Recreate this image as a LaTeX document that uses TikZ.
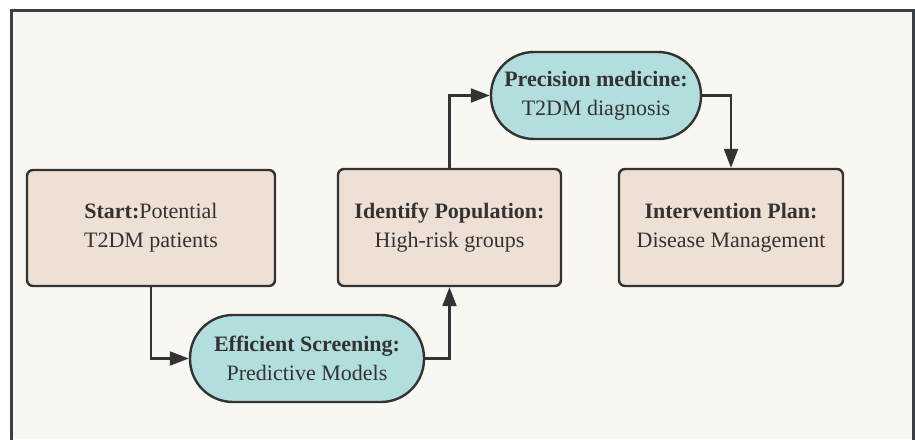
\documentclass[tikz,border=0pt]{standalone}
\usepackage{fontspec}
\setmainfont{Liberation Serif}
\usetikzlibrary{arrows.meta}
\definecolor{pagebg}{HTML}{F8F7F2}
\definecolor{framec}{HTML}{3B4046}
\definecolor{tanbox}{HTML}{EEE0D5}
\definecolor{tealbox}{HTML}{B3DEDE}
\definecolor{inkc}{HTML}{333333}
\begin{document}
\begin{tikzpicture}[x=1pt,y=-1pt,font=\fontsize{22}{29}\selectfont,
 stepbox/.style={draw=inkc,line width=2.4pt,rounded corners=6pt,fill=tanbox,align=center,text=inkc,inner sep=0pt},
 pillbox/.style={draw=inkc,line width=2.4pt,rounded corners=43pt,fill=tealbox,align=center,text=inkc,inner sep=0pt},
 flow/.style={draw=inkc,line width=2.2pt,-{Triangle[length=19pt,width=14pt]}}]
\useasboundingbox (0,0) rectangle (915,439);
\fill[pagebg] (11,10) rectangle (913,439);
\draw[framec,line width=3pt] (11,445)--(11,10)--(913,10)--(913,445);
\node[stepbox,minimum width=248,minimum height=116] (start) at (151,228) {\textbf{Start:}Potential\\T2DM patients};
\node[pillbox,minimum width=234,minimum height=87] (screen) at (307,358.5) {\textbf{Efficient Screening:}\\Predictive Models};
\node[stepbox,minimum width=223,minimum height=117] (identify) at (449.5,227.5) {\textbf{Identify Population:}\\High-risk groups};
\node[pillbox,minimum width=210,minimum height=87] (precision) at (596,95.5) {\textbf{Precision medicine:}\\T2DM diagnosis};
\node[stepbox,minimum width=224,minimum height=117] (plan) at (731,227.5) {\textbf{Intervention Plan:}\\Disease Management};
\draw[flow] (start.south) |- (screen.west);
\draw[flow] (screen.east) -| (identify.south);
\draw[flow] (identify.north) |- (precision.west);
\draw[flow] (precision.east) -| (plan.north);
\end{tikzpicture}
\end{document}
